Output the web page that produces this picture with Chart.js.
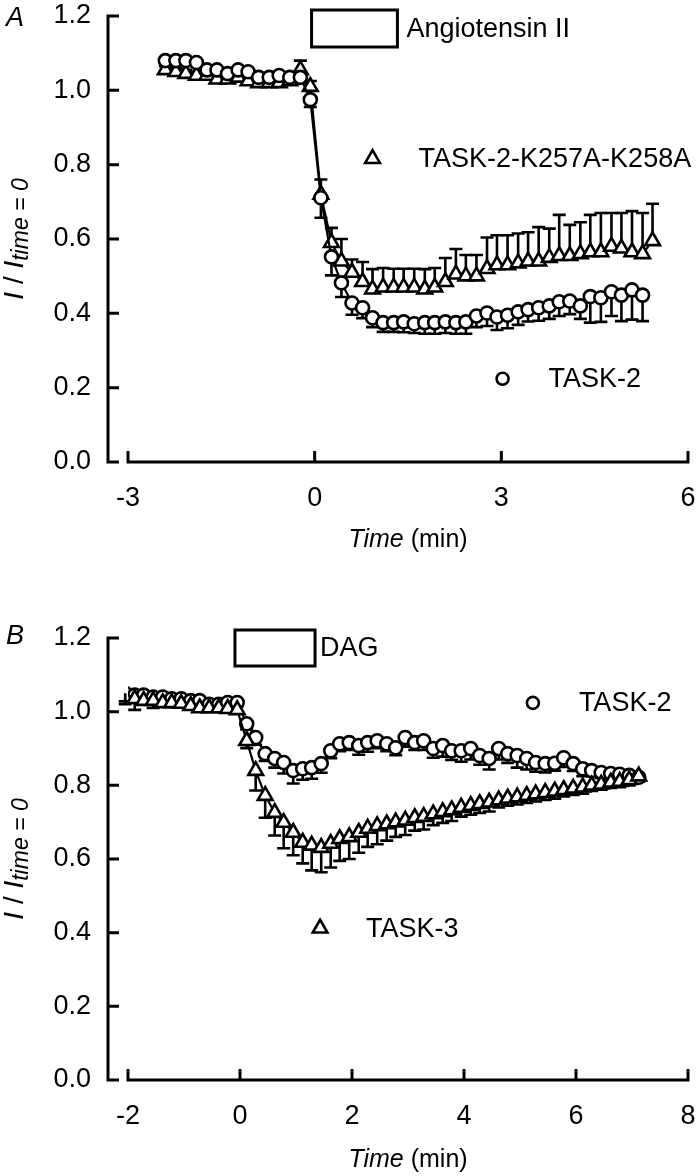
<!DOCTYPE html>
<html>
<head>
<meta charset="utf-8">
<script src="https://cdn.jsdelivr.net/npm/chart.js@4.4.0/dist/chart.umd.min.js"></script>
<style>
  body { margin: 0; background: #fff; width: 700px; height: 1176px; overflow: hidden; }
  .panel { position: absolute; left: 0; width: 700px; }
  #pa { top: 0; height: 580px; }
  #pb { top: 580px; height: 596px; }
</style>
</head>
<body>
<div class="panel" id="pa"><canvas id="chartA"></canvas></div>
<div class="panel" id="pb"><canvas id="chartB"></canvas></div>
<script>
// ---- panel A: angiotensin II ----
const timeA = [-2.4, -2.23, -2.07, -1.9, -1.73, -1.57, -1.4, -1.23, -1.07, -0.9, -0.73, -0.57, -0.4, -0.23, -0.07,
  0.1, 0.27, 0.43, 0.6, 0.77, 0.93, 1.1, 1.27, 1.43, 1.6, 1.77, 1.93, 2.1, 2.27, 2.43, 2.6, 2.77, 2.93,
  3.1, 3.27, 3.43, 3.6, 3.77, 3.93, 4.1, 4.27, 4.43, 4.6, 4.77, 4.93, 5.1, 5.27, 5.43];
const task2A = [1.08, 1.08, 1.08, 1.075, 1.055, 1.055, 1.045, 1.055, 1.05, 1.035, 1.035, 1.04, 1.035, 1.035, 0.975,
  0.711, 0.552, 0.482, 0.428, 0.415, 0.388, 0.375, 0.375, 0.377, 0.372, 0.375, 0.375, 0.377, 0.375, 0.377, 0.393,
  0.401, 0.39, 0.395, 0.404, 0.41, 0.415, 0.42, 0.431, 0.433, 0.42, 0.445, 0.442, 0.458, 0.449, 0.463, 0.449];
const task2AErr = [0.01, 0.01, 0.01, 0.01, 0.01, 0.01, 0.01, 0.015, 0.01, 0.01, 0.01, 0.01, 0.01, 0.015, 0.02,
  0.054, 0.05, 0.038, 0.032, 0.028, 0.025, 0.025, 0.025, 0.028, 0.025, 0.03, 0.03, 0.03, 0.03, 0.032, 0.03,
  0.035, 0.035, 0.035, 0.035, 0.032, 0.035, 0.035, 0.038, 0.035, 0.035, 0.07, 0.065, 0.065, 0.07, 0.08, 0.07];
const mutantA = [1.055, 1.05, 1.045, 1.04, 1.04, 1.03, 1.03, 1.035, 1.025, 1.02, 1.02, 1.02, 1.025, 1.055, 1.01,
  0.72, 0.59, 0.54, 0.51, 0.485, 0.465, 0.47, 0.47, 0.47, 0.47, 0.465, 0.47, 0.485, 0.505, 0.5, 0.5, 0.52, 0.53,
  0.53, 0.535, 0.54, 0.54, 0.55, 0.555, 0.555, 0.56, 0.565, 0.565, 0.58, 0.575, 0.565, 0.56, 0.595];
const mutantAErr = [0.01, 0.01, 0.01, 0.01, 0.01, 0.01, 0.015, 0.01, 0.01, 0.01, 0.01, 0.01, 0.01, 0.025, 0.015,
  0.04, 0.04, 0.06, 0.035, 0.053, 0.054, 0.052, 0.05, 0.05, 0.05, 0.054, 0.052, 0.064, 0.068, 0.057, 0.057, 0.084,
  0.08, 0.08, 0.08, 0.078, 0.092, 0.078, 0.11, 0.083, 0.085, 0.1, 0.105, 0.09, 0.095, 0.11, 0.11, 0.1];
const angiotensinPeriod = [-0.05, 1.33];
const ticksXA = [-3, 0, 3, 6];

// ---- panel B: DAG ----
const timeB = [-2.05, -1.88, -1.72, -1.55, -1.38, -1.22, -1.05, -0.88, -0.72, -0.55, -0.38, -0.22, -0.05,
  0.12, 0.28, 0.45, 0.62, 0.78, 0.95, 1.12, 1.28, 1.45, 1.62, 1.78, 1.95, 2.12, 2.28, 2.45, 2.62, 2.78, 2.95,
  3.12, 3.28, 3.45, 3.62, 3.78, 3.95, 4.12, 4.28, 4.45, 4.62, 4.78, 4.95, 5.12, 5.28, 5.45, 5.62, 5.78, 5.95,
  6.12, 6.28, 6.45, 6.62, 6.78, 6.95, 7.12];
const task2B = [1.05, 1.045, 1.045, 1.04, 1.04, 1.035, 1.035, 1.03, 1.03, 1.02, 1.02, 1.025, 1.025,
  0.967, 0.93, 0.886, 0.873, 0.862, 0.84, 0.845, 0.848, 0.859, 0.894, 0.913, 0.916, 0.908, 0.916, 0.921, 0.913,
  0.902, 0.93, 0.916, 0.921, 0.9, 0.908, 0.894, 0.894, 0.9, 0.881, 0.873, 0.9, 0.886, 0.881, 0.873, 0.862, 0.859,
  0.86, 0.875, 0.859, 0.845, 0.84, 0.835, 0.832, 0.83, 0.827, 0.822];
const task2BErr = [0.03, 0.02, 0.025, 0.015, 0.015, 0.01, 0.01, 0.01, 0.01, 0.01, 0.01, 0.01, 0.01,
  0.015, 0.02, 0.02, 0.025, 0.03, 0.035, 0.03, 0.03, 0.025, 0.02, 0.02, 0.02, 0.025, 0.025, 0.02, 0.02, 0.02,
  0.025, 0.02, 0.025, 0.025, 0.03, 0.025, 0.03, 0.03, 0.025, 0.03, 0.03, 0.025, 0.033, 0.03, 0.025, 0.024, 0.02,
  0.025, 0.02, 0.02, 0.015, 0.015, 0.015, 0.015, 0.015, 0.012];
const task3B = [1.038, 1.035, 1.03, 1.03, 1.024, 1.024, 1.022, 1.016, 1.01, 1.01, 1.01, 1.008, 1.005,
  0.921, 0.84, 0.772, 0.726, 0.699, 0.672, 0.645, 0.637, 0.631,
  0.642, 0.655, 0.66, 0.672, 0.683, 0.69, 0.695, 0.7, 0.705, 0.712, 0.715, 0.722, 0.728, 0.733, 0.74, 0.745,
  0.75, 0.754, 0.76, 0.765, 0.768, 0.772, 0.776, 0.78, 0.784, 0.788, 0.792, 0.795, 0.8, 0.803, 0.808, 0.81,
  0.815, 0.825];
const task3BErr = [0.01, 0.03, 0.01, 0.02, 0.01, 0.01, 0.01, 0.01, 0.01, 0.01, 0.01, 0.01, 0.01,
  0.02, 0.054, 0.06, 0.062, 0.07, 0.062, 0.057, 0.068, 0.067,
  0.065, 0.06, 0.06, 0.055, 0.05, 0.05, 0.045, 0.04, 0.04, 0.035, 0.035, 0.03, 0.03, 0.03, 0.025, 0.025,
  0.025, 0.025, 0.02, 0.02, 0.02, 0.02, 0.02, 0.02, 0.02, 0.018, 0.018, 0.018, 0.015, 0.015, 0.015, 0.015,
  0.015, 0.015];
const dagPeriod = [-0.09, 1.34];
const ticksXB = [-2, 0, 2, 4, 6, 8];

const FONT = "'Liberation Sans', Arial, sans-serif";

function points(times, values) {
  return values.map((v, i) => ({ x: times[i], y: v }));
}

function series(label, times, values, errs, dir, style, radius) {
  return {
    label: label,
    data: points(times, values),
    errors: errs,
    errDir: dir,
    showLine: true,
    borderColor: '#000',
    borderWidth: 2.2,
    pointStyle: style,
    pointRadius: radius,
    pointBorderWidth: 2.6,
    pointBackgroundColor: '#fff',
    pointBorderColor: '#000'
  };
}

// error bars, drawn behind the markers
const errorBars = {
  id: 'errorBars',
  beforeDatasetsDraw(chart) {
    const ctx = chart.ctx;
    const xs = chart.scales.x, ys = chart.scales.y;
    ctx.save();
    ctx.strokeStyle = '#000';
    ctx.lineWidth = 2.6;
    chart.data.datasets.forEach(ds => {
      ds.data.forEach((p, i) => {
        const e = ds.errors[i];
        if (!e) return;
        const px = xs.getPixelForValue(p.x);
        const y0 = ys.getPixelForValue(p.y);
        const y1 = ys.getPixelForValue(p.y + ds.errDir * e);
        ctx.beginPath();
        ctx.moveTo(px, y0);
        ctx.lineTo(px, y1);
        ctx.moveTo(px - 6.5, y1);
        ctx.lineTo(px + 6.5, y1);
        ctx.stroke();
      });
    });
    ctx.restore();
  }
};

function drawMarker(ctx, style, x, y, r) {
  ctx.beginPath();
  if (style === 'circle') {
    ctx.arc(x, y, r, 0, Math.PI * 2);
  } else {
    ctx.moveTo(x, y - r);
    ctx.lineTo(x + r * 0.866, y + r * 0.5);
    ctx.lineTo(x - r * 0.866, y + r * 0.5);
    ctx.closePath();
  }
  ctx.fillStyle = '#fff';
  ctx.fill();
  ctx.stroke();
}

// offset axes, titles, drug bar, labels
const decor = {
  id: 'decor',
  afterDraw(chart, args, o) {
    const ctx = chart.ctx;
    const xs = chart.scales.x, ys = chart.scales.y;
    const area = chart.chartArea;
    ctx.save();
    ctx.strokeStyle = '#000';
    ctx.fillStyle = '#000';
    ctx.lineWidth = 3;

    const ax = area.left - 20;
    const y0 = ys.getPixelForValue(ys.min);
    ctx.beginPath();
    ctx.moveTo(ax, y0 + 1.5);
    ctx.lineTo(ax, ys.getPixelForValue(ys.max) - 1.5);
    ys.ticks.forEach(t => {
      const py = ys.getPixelForValue(t.value);
      ctx.moveTo(ax, py);
      ctx.lineTo(ax + 11, py);
    });
    ctx.stroke();

    ctx.beginPath();
    ctx.moveTo(xs.getPixelForValue(xs.min) - 1.5, y0);
    ctx.lineTo(xs.getPixelForValue(xs.max) + 1.5, y0);
    xs.ticks.forEach(t => {
      const px = xs.getPixelForValue(t.value);
      ctx.moveTo(px, y0);
      ctx.lineTo(px, y0 - 11);
    });
    ctx.stroke();

    // drug application bar
    const bx0 = xs.getPixelForValue(o.period[0]);
    const bx1 = xs.getPixelForValue(o.period[1]);
    const by0 = area.top + o.boxTop, by1 = area.top + o.boxBottom;
    ctx.lineWidth = 3;
    ctx.strokeRect(bx0, by0, bx1 - bx0, by1 - by0);
    ctx.font = '27px ' + FONT;
    ctx.textBaseline = 'middle';
    ctx.textAlign = 'left';
    ctx.fillText(o.drug, bx1 + o.drugGap, (by0 + by1) / 2 + 1);

    // symbol keys
    ctx.lineWidth = 2.6;
    o.keys.forEach(k => {
      const kx = xs.getPixelForValue(k.x), ky = ys.getPixelForValue(k.y);
      drawMarker(ctx, k.style, kx, ky, k.style === 'circle' ? 6 : 8.5);
      ctx.fillStyle = '#000';
      ctx.fillText(k.text, kx + 46, ky + 1);
    });

    // panel letter
    ctx.font = 'italic 27px ' + FONT;
    ctx.textAlign = 'center';
    ctx.fillText(o.letter, 15, area.top + o.letterDy);

    // x title
    const midX = (area.left + area.right) / 2;
    ctx.textAlign = 'left';
    ctx.font = 'italic 25px ' + FONT;
    const w1 = ctx.measureText('Time').width;
    ctx.font = '25px ' + FONT;
    const w2 = ctx.measureText(' (min)').width;
    const sx = midX - (w1 + w2) / 2;
    const ty = area.bottom + o.titleGap;
    ctx.font = 'italic 25px ' + FONT;
    ctx.fillText('Time', sx, ty);
    ctx.font = '25px ' + FONT;
    ctx.fillText(' (min)', sx + w1, ty);

    // y title, rotated
    ctx.translate(15, (area.top + area.bottom) / 2);
    ctx.rotate(-Math.PI / 2);
    const parts = [
      { t: 'I', f: 'italic 28px ', dy: 0 },
      { t: ' / ', f: '28px ', dy: 0 },
      { t: 'I', f: 'italic 28px ', dy: 0 },
      { t: 'time = 0', f: 'italic 23px ', dy: 7 }
    ];
    let total = 0;
    parts.forEach(p => { ctx.font = p.f + FONT; p.w = ctx.measureText(p.t).width; total += p.w; });
    let cx = -total / 2;
    parts.forEach(p => {
      ctx.font = p.f + FONT;
      ctx.fillText(p.t, cx, p.dy);
      cx += p.w;
    });
    ctx.restore();
  }
};

function makeChart(id, datasets, xr, xticks, xHeight, topPad, decorOpts) {
  return new Chart(document.getElementById(id), {
    type: 'scatter',
    data: { datasets: datasets },
    options: {
      responsive: true,
      maintainAspectRatio: false,
      animation: false,
      layout: { padding: { top: topPad, right: 12, left: 0, bottom: 0 } },
      plugins: { legend: { display: false }, tooltip: { enabled: false }, decor: decorOpts },
      scales: {
        x: {
          type: 'linear', min: xr[0], max: xr[1],
          grid: { display: false, drawTicks: false },
          border: { display: false },
          afterBuildTicks: s => { s.ticks = xticks.map(v => ({ value: v })); },
          afterFit: s => { s.height = xHeight; s.paddingLeft = 0; s.paddingRight = 0; },
          ticks: { color: '#000', padding: 20, maxRotation: 0, font: { family: FONT, size: 27 } }
        },
        y: {
          min: 0, max: 1.2,
          grid: { display: false, drawTicks: false },
          border: { display: false },
          afterFit: s => { s.width = 128; s.paddingTop = 0; s.paddingBottom = 0; },
          ticks: { color: '#000', stepSize: 0.2, padding: 37, font: { family: FONT, size: 27 },
                   callback: v => v.toFixed(1) }
        }
      }
    },
    plugins: [errorBars, decor]
  });
}

makeChart('chartA', [
  series('TASK-2', timeA, task2A, task2AErr, -1, 'circle', 6.5),
  series('TASK-2-K257A-K258A', timeA, mutantA, mutantAErr, 1, 'triangle', 8.5)
], [-3, 6], ticksXA, 118, 16, {
  letter: 'A', letterDy: 2, period: angiotensinPeriod, drug: 'Angiotensin II', drugGap: 9,
  boxTop: -6, boxBottom: 31, titleGap: 78,
  keys: [
    { style: 'triangle', x: 0.93, y: 0.816, text: 'TASK-2-K257A-K258A' },
    { style: 'circle', x: 3.02, y: 0.224, text: 'TASK-2' }
  ]
});

makeChart('chartB', [
  series('TASK-3', timeB, task3B, task3BErr, -1, 'triangle', 8.5),
  series('TASK-2', timeB, task2B, task2BErr, -1, 'circle', 6.5)
], [-2, 8], ticksXB, 96, 58, {
  letter: 'B', letterDy: -2, period: dagPeriod, drug: 'DAG', drugGap: 5,
  boxTop: -8, boxBottom: 28, titleGap: 80,
  keys: [
    { style: 'circle', x: 5.23, y: 1.024, text: 'TASK-2' },
    { style: 'triangle', x: 1.43, y: 0.412, text: 'TASK-3' }
  ]
});
</script>
</body>
</html>
